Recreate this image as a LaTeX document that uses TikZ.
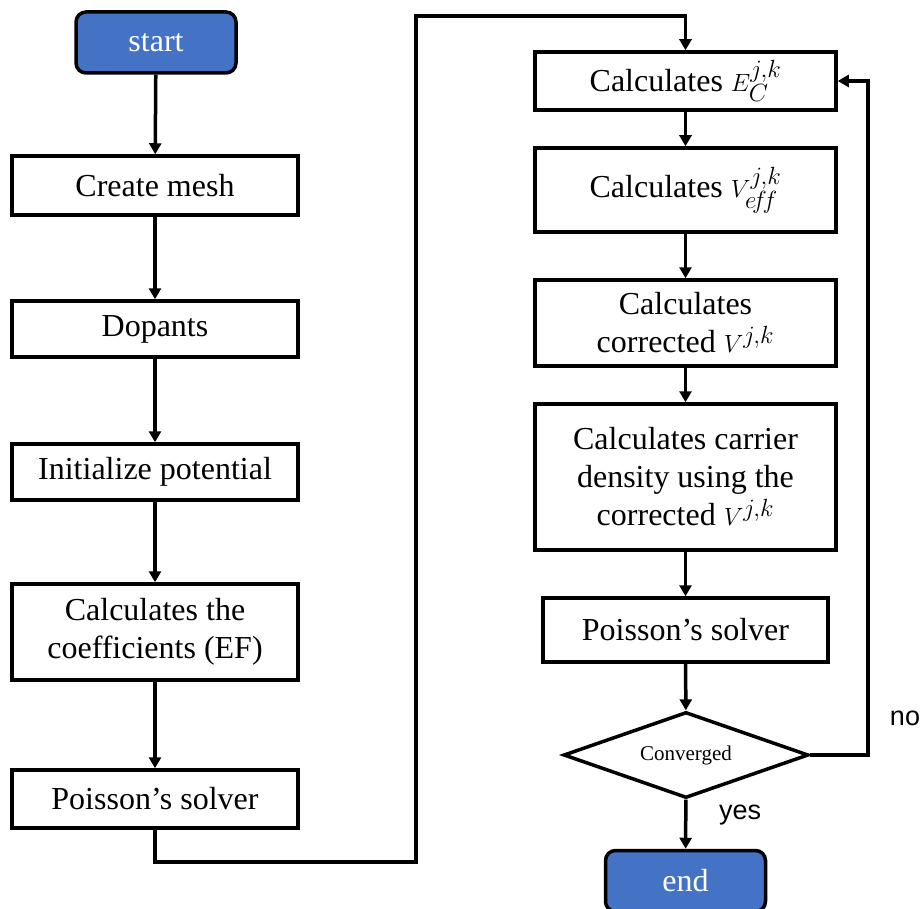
\documentclass[tikz,border=0pt]{standalone}
\usepackage{fontspec}
\setmainfont{Liberation Serif}
\newfontfamily\labelsans{Liberation Sans}
\usetikzlibrary{arrows.meta,shapes.geometric,calc}
\definecolor{boxblue}{HTML}{4472C4}
\begin{document}
\begin{tikzpicture}[x=1pt,y=-1pt,
  every node/.style={font=\fontsize{32}{38}\selectfont, align=center, inner sep=0pt},
  procbox/.style={draw=black, line width=3.5pt, fill=white, minimum width=286pt},
  rprocbox/.style={draw=black, line width=3.5pt, fill=white, minimum width=301pt},
  termbox/.style={draw=black, line width=3.5pt, fill=boxblue, rounded corners=10pt, text=white, minimum width=160pt, minimum height=61pt},
  decbox/.style={draw=black, line width=3.5pt, fill=white, diamond, aspect=2.85, minimum width=245pt, minimum height=86pt, font=\fontsize{21}{25}\selectfont},
  arr/.style={line width=3.5pt, -{Triangle[length=11pt,width=12pt]}},
  lbl/.style={font=\labelsans\fontsize{27}{32}\selectfont},
  mth/.style={}
]
\useasboundingbox (0,0) rectangle (920,909);

% left column
\node[termbox] (start) at (156,42.5) {start};
\node[procbox, minimum height=59pt] (mesh) at (155,185.5) {Create mesh};
\node[procbox, minimum height=56pt] (dop) at (155,329) {Dopants};
\node[procbox, minimum height=56pt] (init) at (155,472) {Initialize potential};
\node[procbox, minimum height=96pt] (coef) at (155,632) {Calculates the\\coefficients (EF)};
\node[procbox, minimum height=58pt] (pois1) at (155,799) {Poisson’s solver};

% right column
\node[rprocbox, minimum height=58pt] (ec) at (685.5,81) {Calculates {\fontsize{36}{38}\selectfont$E_C^{j,k}$}};
\node[rprocbox, minimum height=84pt] (veff) at (685.5,190) {Calculates {\fontsize{36}{38}\selectfont$V_{e\!f\!f}^{j,k}$}};
\node[rprocbox, minimum height=86pt] (corr) at (685.5,323) {Calculates\\corrected {\fontsize{36}{38}\selectfont$V^{j,k}$}};
\node[rprocbox, minimum height=146pt] (carr) at (685.5,477) {Calculates carrier\\density using the\\corrected {\fontsize{36}{38}\selectfont$V^{j,k}$}};
\node[procbox, minimum width=285pt, minimum height=64pt] (pois2) at (685.5,630) {Poisson’s solver};
\node[decbox] (conv) at (686,755) {Converged};
\node[termbox] (end) at (685.5,881) {end};

% connectors left
\draw[arr] (start) -- (mesh);
\draw[arr] (mesh) -- (dop);
\draw[arr] (dop) -- (init);
\draw[arr] (init) -- (coef);
\draw[arr] (coef) -- (pois1);

\coordinate (c1) at (416,862);
\coordinate (c2) at (416,16);
\draw[arr] (pois1.south) |- (c1) -- (c2) -| (ec.north);

% connectors right
\draw[arr] (ec) -- (veff);
\draw[arr] (veff) -- (corr);
\draw[arr] (corr) -- (carr);
\draw[arr] (carr) -- (pois2);
\draw[arr] (pois2) -- (conv);
\draw[arr] (conv) -- (end);

\coordinate (c3) at (868,81);
\draw[arr] (conv.east) -| (c3) -- (ec.east);

\node[lbl] (no) at (905,718) {no};
\node[lbl] (yes) at (740,815) {yes};
\end{tikzpicture}
\end{document}
